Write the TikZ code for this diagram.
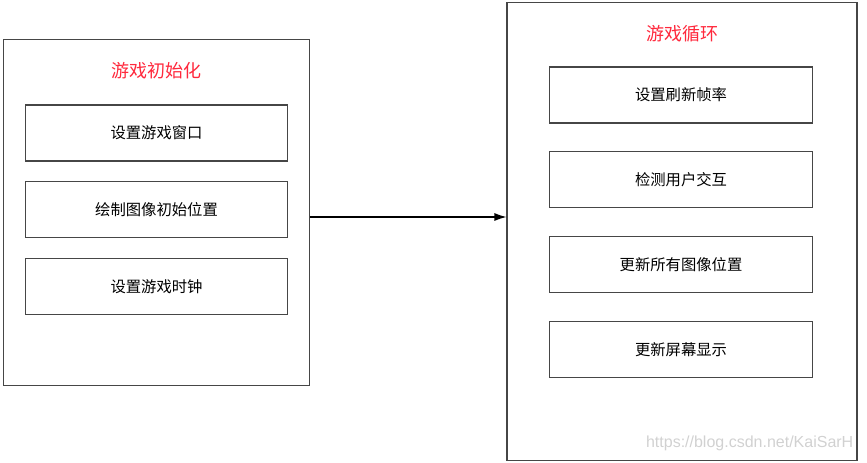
\documentclass[tikz,border=0pt]{standalone}
\usepackage{fontspec}
\setmainfont{Liberation Sans}
\newfontfamily\cjk{Noto Sans CJK SC}
\usepackage{xcolor}
\usepackage{tikz}
\usetikzlibrary{arrows.meta, positioning}
\definecolor{titelrot}{RGB}{255,40,60}
\definecolor{rahmen}{RGB}{70,70,70}

\begin{document}
\begin{tikzpicture}[x=0.75pt, y=-0.75pt, >={Latex[length=9pt,width=6pt]},
      frame/.style={draw=rahmen, line width=0.8pt},
      stepbox/.style={frame, minimum width=197pt, minimum height=42pt,
                      inner sep=0pt, font=\cjk\fontsize{11.5}{13}\selectfont},
      phase/.style={text=titelrot, font=\cjk\fontsize{13.5}{15}\selectfont}]

    \useasboundingbox (0,0) rectangle (867,463);

    % the two phases
    \node[frame, minimum width=230pt, minimum height=260pt] (init) at (156.5,212.5) {};
    \node[frame, minimum width=262.5pt, minimum height=344pt] (loop) at (682,231.5) {};

    \node[phase] (initT) at (156.5,71) {游戏初始化};
    \node[phase] (loopT) at (682,34) {游戏循环};

    % initialisation steps
    \node[stepbox] (I1) at (156.5,133) {设置游戏窗口};
    \node[stepbox, below=14.85pt of I1] (I2) {绘制图像初始位置};
    \node[stepbox, below=14.85pt of I2] (I3) {设置游戏时钟};

    % loop steps
    \node[stepbox] (L1) at (681,95) {设置刷新帧率};
    \node[stepbox, below=20.8pt of L1] (L2) {检测用户交互};
    \node[stepbox, below=20.8pt of L2] (L3) {更新所有图像位置};
    \node[stepbox, below=20.8pt of L3] (L4) {更新屏幕显示};

    \coordinate (mid) at (0,217);
    \draw[->, line width=0.8pt] (init.east |- mid) -- (loop.west |- mid);

    \node[text=black!18, anchor=east, font=\fontsize{12}{14}\selectfont] (wm) at (858,443) {https://blog.csdn.net/KaiSarH};
  \end{tikzpicture}
\end{document}
